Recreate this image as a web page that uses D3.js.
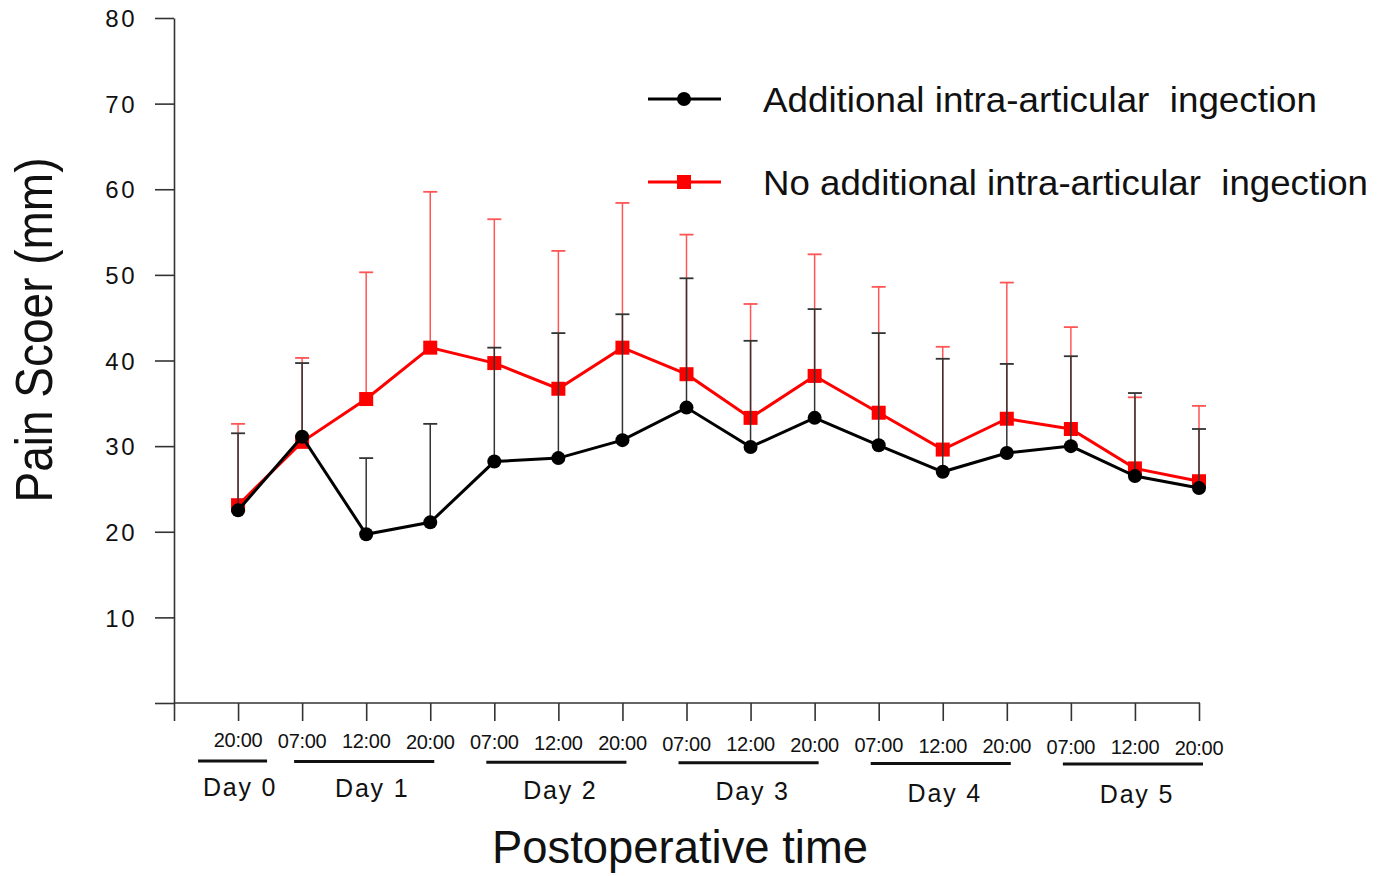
<!DOCTYPE html>
<html>
<head>
<meta charset="utf-8">
<script src="https://cdn.jsdelivr.net/npm/d3@7"></script>
<style>
  body { margin: 0; background: #fff; }
  text { font-family: "Liberation Sans", Arial, sans-serif; fill: #111; }
</style>
</head>
<body>
<svg id="chart"></svg>
<script>
const w = 1393;
const h = 876;

// time points along the x axis
const timeLabels = ["20:00", "07:00", "12:00", "20:00", "07:00", "12:00", "20:00", "07:00",
  "12:00", "20:00", "07:00", "12:00", "20:00", "07:00", "12:00", "20:00"];

// day groups (first / last time point index)
const dayNames = ["Day 0", "Day 1", "Day 2", "Day 3", "Day 4", "Day 5"];
const dayFirst = [0, 1, 4, 7, 10, 13];
const dayLast = [0, 3, 6, 9, 12, 15];

// Additional intra-articular injection: mean and mean+SD
const addMean = [22.5, 31.1, 19.7, 21.1, 28.2, 28.6, 30.7, 34.5, 29.9, 33.3, 30.1, 27.0, 29.2, 30.0, 26.5, 25.1];
const addUpper = [31.5, 39.7, 28.6, 32.6, 41.5, 43.2, 45.4, 49.6, 42.3, 46.0, 43.2, 40.2, 39.6, 40.5, 36.2, 32.0];

// No additional intra-articular injection
const noMean = [23.1, 30.5, 35.5, 41.5, 39.7, 36.7, 41.5, 38.4, 33.3, 38.2, 33.9, 29.6, 33.2, 32.0, 27.4, 25.9];
const noUpper = [32.6, 40.3, 50.3, 59.7, 56.5, 52.8, 58.4, 54.7, 46.6, 52.4, 48.6, 41.6, 49.1, 43.9, 35.7, 34.7];

const yTicks = [0, 10, 20, 30, 40, 50, 60, 70, 80];

const legendLabels = ["Additional intra-articular  ingection", "No additional intra-articular  ingection"];

const svg = d3.select("#chart")
  .attr("width", w)
  .attr("height", h);

const xScale = d3.scaleLinear()
  .domain([-1, timeLabels.length - 1])
  .range([174, 1199]);

const yScale = d3.scaleLinear()
  .domain([0, 80])
  .range([703, 18]);

// axes
const yAxis = d3.axisLeft(yScale)
  .tickValues(yTicks)
  .tickSize(19)
  .tickSizeOuter(0)
  .tickPadding(18)
  .tickFormat(d => d === 0 ? "" : d);

const yG = svg.append("g")
  .attr("transform", "translate(174,0)")
  .call(yAxis);
yG.selectAll("path, line").attr("stroke", "#333").attr("stroke-width", 1.6);
yG.selectAll("text")
  .style("font-size", "24px")
  .style("letter-spacing", "2.5px")
  .attr("dy", "0.36em")
  .attr("fill", "#111");

const xAxis = d3.axisBottom(xScale)
  .tickValues(d3.range(-1, timeLabels.length))
  .tickSize(18)
  .tickSizeOuter(0)
  .tickFormat("");

const xG = svg.append("g")
  .attr("transform", "translate(0,703)")
  .call(xAxis);
xG.selectAll("path, line").attr("stroke", "#333").attr("stroke-width", 1.6);
xG.select("path").attr("d", "M174,0H1200");

svg.append("g").selectAll("text")
  .data(timeLabels)
  .join("text")
  .attr("x", (d, i) => xScale(i))
  .attr("y", (d, i) => 747 + i * 0.5)
  .attr("text-anchor", "middle")
  .style("font-size", "20px")
  .style("letter-spacing", "-0.3px")
  .text(d => d);

// day groups
dayNames.forEach((name, i) => {
  let x0 = xScale(dayFirst[i]) - 8;
  let x1 = xScale(dayLast[i]) + 4;
  if (dayFirst[i] === dayLast[i]) {
    x0 = xScale(dayFirst[i]) - 40;
    x1 = xScale(dayFirst[i]) + 29;
  }
  svg.append("line")
    .attr("x1", x0).attr("x2", x1)
    .attr("y1", 761 + i * 0.6).attr("y2", 761 + i * 0.6)
    .attr("stroke", "#111")
    .attr("stroke-width", 3);
  svg.append("text")
    .attr("x", (xScale(dayFirst[i]) + xScale(dayLast[i])) / 2 + (i === 1 ? 6 : 2))
    .attr("y", 796 + i * 1.4)
    .attr("text-anchor", "middle")
    .style("font-size", "25px")
    .style("letter-spacing", "1.8px")
    .text(name);
});

// titles
svg.append("text")
  .attr("transform", "translate(52,330) rotate(-90)")
  .attr("text-anchor", "middle")
  .attr("textLength", 345)
  .attr("lengthAdjust", "spacingAndGlyphs")
  .style("font-size", "52px")
  .text("Pain Scoer (mm)");

svg.append("text")
  .attr("x", 680)
  .attr("y", 863)
  .attr("text-anchor", "middle")
  .attr("textLength", 376)
  .attr("lengthAdjust", "spacingAndGlyphs")
  .style("font-size", "47px")
  .text("Postoperative time");

// series
const series = [
  { mean: noMean, upper: noUpper, color: "#ff0000", bar: "#ff5555", shape: "square" },
  { mean: addMean, upper: addUpper, color: "#000000", bar: "#333333", shape: "circle" }
];

const line = d3.line()
  .x((d, i) => xScale(i))
  .y(d => yScale(d));

series.forEach(s => {
  const g = svg.append("g");
  g.selectAll("line.err")
    .data(s.mean)
    .join("line")
    .attr("class", "err")
    .attr("x1", (d, i) => xScale(i))
    .attr("x2", (d, i) => xScale(i))
    .attr("y1", d => yScale(d))
    .attr("y2", (d, i) => yScale(s.upper[i]))
    .attr("stroke", s.bar)
    .attr("stroke-width", 1.5);
  g.selectAll("line.cap")
    .data(s.upper)
    .join("line")
    .attr("class", "cap")
    .attr("x1", (d, i) => xScale(i) - 7)
    .attr("x2", (d, i) => xScale(i) + 7)
    .attr("y1", d => yScale(d))
    .attr("y2", d => yScale(d))
    .attr("stroke", s.bar)
    .attr("stroke-width", 1.8);
  g.append("path")
    .datum(s.mean)
    .attr("d", line)
    .attr("fill", "none")
    .attr("stroke", s.color)
    .attr("stroke-width", 3);
  if (s.shape === "square") {
    g.selectAll("rect")
      .data(s.mean)
      .join("rect")
      .attr("x", (d, i) => xScale(i) - 7)
      .attr("y", d => yScale(d) - 7)
      .attr("width", 14)
      .attr("height", 14)
      .attr("fill", s.color);
  } else {
    g.selectAll("circle")
      .data(s.mean)
      .join("circle")
      .attr("cx", (d, i) => xScale(i))
      .attr("cy", d => yScale(d))
      .attr("r", 7)
      .attr("fill", s.color);
  }
});

// legend
const legendColors = ["#000000", "#ff0000"];
const legendWidths = [554, 605];
legendLabels.forEach((label, i) => {
  const ly = 99 + i * 83;
  const lg = svg.append("g");
  lg.append("line")
    .attr("x1", 648).attr("x2", 721)
    .attr("y1", ly).attr("y2", ly)
    .attr("stroke", legendColors[i])
    .attr("stroke-width", 3);
  if (i === 0) {
    lg.append("circle").attr("cx", 684).attr("cy", ly).attr("r", 7).attr("fill", legendColors[i]);
  } else {
    lg.append("rect").attr("x", 677).attr("y", ly - 7).attr("width", 14).attr("height", 14).attr("fill", legendColors[i]);
  }
  lg.append("text")
    .attr("x", 763)
    .attr("y", ly + 13)
    .attr("textLength", legendWidths[i])
    .attr("lengthAdjust", "spacingAndGlyphs")
    .style("font-size", "35px")
    .style("white-space", "pre")
    .text(label);
});
</script>
</body>
</html>
